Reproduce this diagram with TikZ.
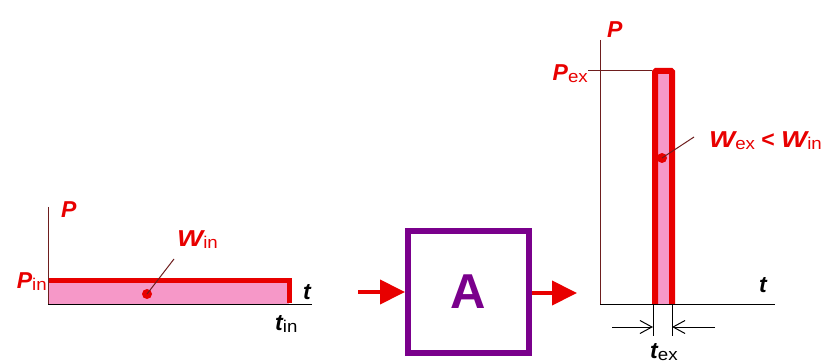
\documentclass[tikz,border=0pt]{standalone}
\usepackage{fontspec}
\setmainfont{Liberation Sans}
\usetikzlibrary{arrows.meta}
\definecolor{myred}{RGB}{232,0,0}
\definecolor{mypink}{RGB}{246,152,200}
\definecolor{mypurple}{RGB}{122,0,140}
\definecolor{axbrown}{RGB}{110,30,30}
\newcommand{\subtxt}[1]{\raisebox{-2pt}{\scalebox{1.1}[1]{\normalfont\fontsize{17}{17}\selectfont #1}}}
\newcommand{\bigW}{\scalebox{1.2}[1]{W}}
\begin{document}
\begin{tikzpicture}[x=1pt,y=-1pt,
  lab/.style={inner sep=0pt,font=\bfseries\itshape\fontsize{23}{23}\selectfont},
  axis/.style={line width=1pt},
  leader/.style={axbrown,line width=1pt},
  bigarrow/.style={myred,line width=4pt,-{Triangle[length=25pt,width=24pt]}},
  dimarrow/.style={line width=1pt,-{Straight Barb[length=12pt,width=13pt]}}]
\useasboundingbox (0,0) rectangle (832,363);

% ---------- left graph ----------
\fill[mypink] (48,280) rectangle (289,304);
\draw[myred,line width=5pt] (48,280) -- (289,280) -- (289,303);
\draw[axis,axbrown] (48,207) -- (48,304);
\draw[axis] (48,304) -- (312,304);
\node[lab,myred,anchor=base west] (P1) at (61,218) {P};
\node[lab,myred,anchor=base east] (Pin) at (47,288) {P\subtxt{in}};
\node[lab,anchor=base] (t1) at (307,299) {t};
\node[lab,anchor=base west] (tin) at (275,330) {t\subtxt{in}};
\node[lab,myred,anchor=base west] (Win) at (177,247) {\bigW\subtxt{in}};
\coordinate (d1) at (147,294);
\coordinate (l1) at (174,259);
\fill[myred] (d1) circle (5pt);
\draw[leader] (d1) -- (l1);

% ---------- box A ----------
\node[draw=mypurple,line width=6pt,minimum width=121pt,minimum height=122pt,
      text=mypurple,font=\bfseries\fontsize{49}{49}\selectfont] (A) at (468.5,292) {A};
\coordinate (inA) at (358,292);
\coordinate (outA) at (577,293);
\draw[bigarrow] (inA) -- (A.west);
\draw[bigarrow] (A.east |- outA) -- (outA);

% ---------- right graph ----------
\fill[mypink] (655,71) rectangle (672,304);
\draw[myred,line width=6pt,rounded corners=1pt] (655,304) -- (655,71) -- (672,71) -- (672,304);
\draw[axis,axbrown] (600,40) -- (600,304);
\draw[axis,axbrown] (588,71) -- (652,71);
\draw[axis] (600,304) -- (775,304);
\node[lab,myred,anchor=base west] (P2) at (607,38) {P};
\node[lab,myred,anchor=base east] (Pex) at (588,81) {P\subtxt{ex}};
\node[lab,anchor=base] (t2) at (763,292) {t};
\node[lab,myred,anchor=base west] (Wex) at (709,148) {\bigW\subtxt{ex} {\upshape<} \bigW\subtxt{in}};
\coordinate (d2) at (662,158);
\coordinate (l2) at (694,137);
\fill[myred] (d2) circle (5pt);
\draw[leader] (d2) -- (l2);

% dimension
\coordinate (k1a) at (653,304); \coordinate (k1b) at (653,336);
\coordinate (k2a) at (672,304); \coordinate (k2b) at (672,336);
\draw[line width=1pt] (k1a) -- (k1b);
\draw[line width=1pt] (k2a) -- (k2b);
\coordinate (a1) at (612,327); \coordinate (a1e) at (653,327);
\coordinate (a2) at (715,327); \coordinate (a2e) at (672,327);
\draw[dimarrow] (a1) -- (a1e);
\draw[dimarrow] (a2) -- (a2e);
\node[lab,anchor=base west] (tex) at (650,358) {t\subtxt{ex}};
\end{tikzpicture}
\end{document}
